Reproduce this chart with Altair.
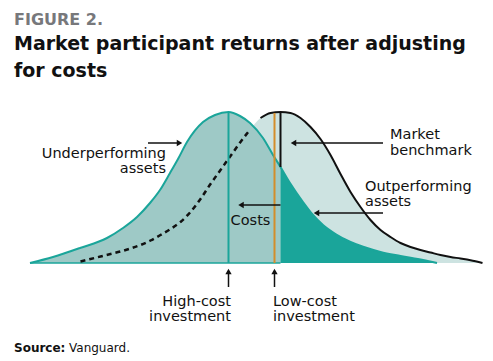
import altair as alt
import pandas as pd

# ---------------- data ----------------
# Return relative to the market benchmark (benchmark mean = 0) and curve height
benchmark_return = [-20.0, -19.0, -18.0, -17.0, -16.0, -15.0, -14.0, -13.0, -12.0, -11.0, -10.0,
                    -9.0, -8.0, -7.0, -6.0, -5.0, -4.0, -3.0, -2.0, -1.0, 0.0, 1.0, 2.0, 3.0, 4.0,
                    5.0, 6.0, 7.0, 8.0, 9.0, 10.0, 11.0, 12.0, 13.0, 14.0, 15.0, 16.0, 17.0, 18.0,
                    19.0, 20.2]
benchmark_density = [1.5, 4, 6.5, 9, 11.5, 14.5, 18, 22.5, 28, 34, 41,
                     51, 64, 79, 93, 107, 121, 134, 145, 150, 151, 150, 145, 136, 124,
                     108, 89, 71, 56, 43, 33, 26, 20, 16, 13, 10.5, 8, 6, 4.5,
                     2.8, 0]

high_cost_return = [-25.05, -22.75, -20.05, -17.35, -15.75, -14.35, -13.05, -12.05, -11.05, -10.25,
                    -9.35, -7.75, -6.55, -5.2, -4.05, -3.05, -1.75, -0.75, 0.0, 0.95, 2.25, 3.25,
                    4.25, 5.5, 7.0, 8.5, 10.0, 12.0, 14.25, 15.65]
high_cost_density = [0, 6, 15, 25, 35, 46, 60, 73, 90, 104,
                     121, 141, 148, 151, 147, 140, 125, 108, 96, 80, 61, 48,
                     38, 29, 21, 15.5, 11, 7, 3, 0]

benchmark_mean = 0.0
high_cost_mean = -5.2
low_cost_mean = -0.6
dash_until = -2.8          # black curve is dashed while hidden under the teal curve

# ---------------- styles ----------------
FONT = "DejaVu Sans"
TEAL = "#1aa59a"
LIGHT_TEAL = "#9ec9c6"
PALE = "#cde3e1"
ORANGE = "#d38d2b"
BLACK = "#111111"

bench = pd.DataFrame({"x": benchmark_return, "h": benchmark_density})
high = pd.DataFrame({"x": high_cost_return, "h": high_cost_density})

xs = alt.Scale(domain=[-28.05, 21.25], nice=False, zero=False)
ys = alt.Scale(domain=[-98, 263], nice=False, zero=False)
X = lambda f="x": alt.X(f"{f}:Q", scale=xs, axis=None)
Y = lambda f="h": alt.Y(f"{f}:Q", scale=ys, axis=None)

pale_area = alt.Chart(bench).mark_area(color=PALE, interpolate="monotone").encode(
    x=X(), y=Y(), y2=alt.datum(0))
teal_area = alt.Chart(high).transform_filter(alt.datum.x <= benchmark_mean).mark_area(
    color=LIGHT_TEAL, interpolate="monotone").encode(x=X(), y=Y(), y2=alt.datum(0))
dark_area = alt.Chart(high).transform_filter(alt.datum.x >= benchmark_mean).mark_area(
    color=TEAL, interpolate="monotone").encode(x=X(), y=Y(), y2=alt.datum(0))

baseline = alt.Chart(pd.DataFrame({"x": [high_cost_return[0]], "x2": [benchmark_mean], "h": [0]})).mark_rule(
    color=TEAL, strokeWidth=1.5).encode(x=X(), x2="x2:Q", y=Y())

teal_line = alt.Chart(high).mark_line(color=TEAL, strokeWidth=2, interpolate="monotone").encode(x=X(), y=Y())
dash_line = alt.Chart(bench).transform_filter(alt.datum.x <= dash_until).mark_line(
    color=BLACK, strokeWidth=2.5, strokeDash=[5, 4], interpolate="monotone").encode(x=X(), y=Y())
solid_line = alt.Chart(bench).transform_filter(alt.datum.x >= dash_until).mark_line(
    color=BLACK, strokeWidth=2, interpolate="monotone").encode(x=X(), y=Y())

vlines = pd.DataFrame({
    "x": [high_cost_mean, low_cost_mean, benchmark_mean],
    "h": [0, 0, 96],
    "h2": [151, 150, 151],
    "c": [TEAL, ORANGE, BLACK],
})
vrules = alt.Chart(vlines).mark_rule(strokeWidth=2).encode(
    x=X(), y=Y(), y2="h2:Q", color=alt.Color("c:N", scale=None))

# arrows (annotation geometry)
arrows = pd.DataFrame({
    "x":  [-13.25, 10.25, 10.25, 0.0, high_cost_mean, low_cost_mean],
    "x2": [-10.3, 1.4, 3.7, -3.8, high_cost_mean, low_cost_mean],
    "h":  [120, 120, 50, 58, -24, -24],
    "h2": [120, 120, 50, 58, -8, -8],
})
heads = pd.DataFrame({
    "x": [-10.1, 1.3, 3.6, -3.95, high_cost_mean, low_cost_mean],
    "h": [120, 120, 50, 58, -8.5, -8.5],
    "shape": ["triangle-right", "triangle-left", "triangle-left", "triangle-left", "triangle-up", "triangle-up"],
})
arrow_lines = alt.Chart(arrows).mark_rule(color=BLACK, strokeWidth=1.5).encode(
    x=X(), x2="x2:Q", y=Y(), y2="h2:Q")
arrow_heads = alt.Chart(heads).mark_point(filled=True, color=BLACK, opacity=1, size=40).encode(
    x=X(), y=Y(), shape=alt.Shape("shape:N", scale=None))


def texts(rows, align, size, weight="normal", color=BLACK, lh=None):
    df = pd.DataFrame(rows, columns=["t", "x", "h"])
    kw = dict(align=align, baseline="alphabetic", font=FONT, fontSize=size,
              fontWeight=weight, color=color, lineBreak="\n")
    if lh is not None:
        kw["lineHeight"] = lh
    return alt.Chart(df).mark_text(**kw).encode(x=X(), y=Y(), text="t:N")


LBL = 14.5
LH = 15.5
labels_right = texts([["Underperforming\nassets", -11.45, 105.5],
                      ["High-cost\ninvestment", -4.95, -42.5]], "right", LBL, lh=LH)
labels_left = texts([["Market\nbenchmark", 10.95, 124],
                     ["Outperforming\nassets", 8.45, 72.5],
                     ["Low-cost\ninvestment", -0.75, -42.5]], "left", LBL, lh=LH)
labels_center = texts([["Costs", -3.0, 38]], "center", LBL)

fig = texts([["FIGURE 2.", -26.65, 238]], "left", 16, "bold", "#77787b")
title = texts([["Market participant returns after adjusting\nfor costs", -26.65, 213]],
              "left", 19, "bold", lh=27)
src_b = texts([["Source:", -26.65, -89]], "left", 12, "bold")
src_r = texts([["Vanguard.", -21.15, -89]], "left", 12)

chart = alt.layer(
    pale_area, teal_area, dark_area, baseline, dash_line, solid_line, teal_line, vrules,
    arrow_lines, arrow_heads, labels_right, labels_left, labels_center, fig, title, src_b, src_r
).properties(
    width=493, height=361, padding=0, autosize=alt.AutoSizeParams(type="none"), background="white"
).configure_view(stroke=None)

chart.save("out.html", embed_options={"renderer": "svg", "actions": False})
